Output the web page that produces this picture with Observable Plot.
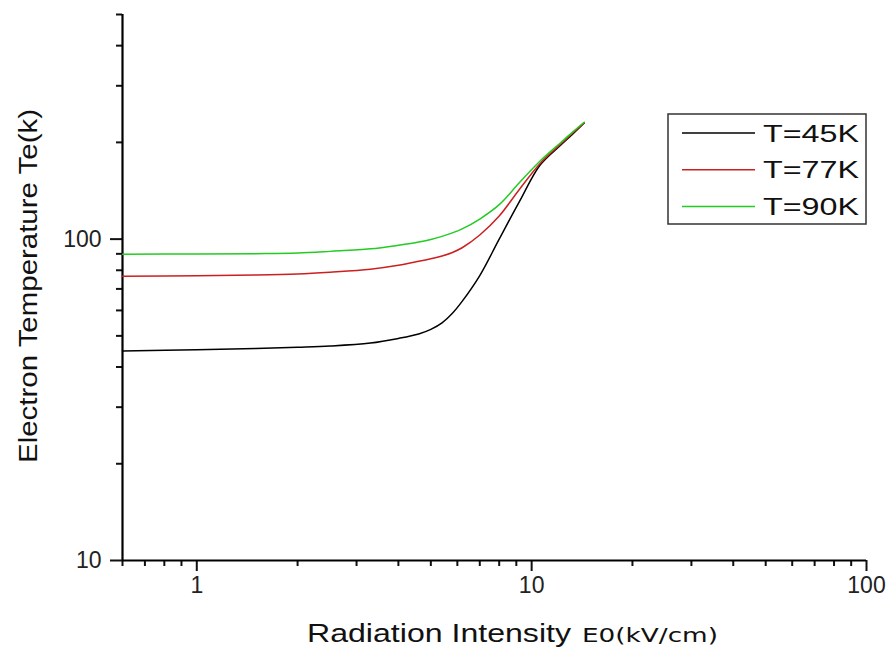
<!DOCTYPE html>
<html><head><meta charset="utf-8">
<script src="https://cdn.jsdelivr.net/npm/d3@7"></script>
<script src="https://cdn.jsdelivr.net/npm/@observablehq/plot@0.6"></script>
<style>html,body{margin:0;padding:0;background:#fff} #chart{width:890px;height:648px}</style>
</head><body><div id="chart"></div>
<script>
// Radiation intensity E0 (kV/cm), shared by all series
const E0   = [0.6, 1, 1.5, 2, 2.5, 3.3, 4, 4.6, 5.0, 5.4, 5.8, 6.2, 7, 8, 9.2, 10.6, 12.2, 13.3, 14.35];
// Electron temperature Te (K)
const te45 = [44.9, 45.3, 45.7, 46.1, 46.5, 47.5, 49.1, 50.7, 52.4, 54.9, 58.8, 64.0, 77.0, 100, 131, 170, 196, 213, 230];
const te77 = [76.7, 76.9, 77.3, 77.9, 78.9, 80.6, 82.9, 85.3, 86.9, 88.6, 90.9, 94.0, 103, 118, 143, 172, 197.5, 214.5, 230];
const te90 = [89.8, 89.9, 90.1, 90.5, 91.6, 93.3, 95.7, 97.9, 99.8, 102.0, 104.6, 107.6, 115.5, 128, 150, 175, 199.5, 216, 231];

const seriesNames  = ["T=45K", "T=77K", "T=90K"];
const seriesColors = ["#000000", "#cc2020", "#22cc22"];

const xMajorTicks = [1, 10, 100];
const xMinorTicks = [0.6, 0.7, 0.8, 0.9, 2, 3, 4, 5, 6, 7, 8, 9, 20, 30, 40, 50, 60, 70, 80, 90];
const yMajorTicks = [10, 100];
const yMinorTicks = [20, 30, 40, 50, 60, 70, 80, 90, 200, 300, 400, 500];

const xTitle = "Radiation Intensity";
const xUnit  = "E0(kV/cm)";
const yTitle = "Electron Temperature Te(k)";

const rows = [];
[te45, te77, te90].forEach((ys, i) => ys.forEach((v, j) => rows.push({E: E0[j], Te: v, series: seriesNames[i]})));

const font = "'Liberation Sans', Arial, sans-serif";

const plot = Plot.plot({
  width: 890, height: 648,
  marginLeft: 122, marginRight: 24, marginTop: 14, marginBottom: 88,
  style: {fontFamily: font, background: "#fff", color: "#111"},
  x: {type: "log", domain: [0.6, 100], label: null},
  y: {type: "log", domain: [10, 500], label: null},
  color: {domain: seriesNames, range: seriesColors},
  marks: [
    Plot.axisX(xMinorTicks, {tickSize: 6, tickFormat: () => "", strokeWidth: 2, label: null}),
    Plot.axisX(xMajorTicks, {tickSize: 11, tickPadding: 5, fontSize: 23, strokeWidth: 2, tickFormat: d => String(d), label: null}),
    Plot.axisY(yMinorTicks, {tickSize: 6, tickFormat: () => "", strokeWidth: 2, label: null}),
    Plot.axisY(yMajorTicks, {tickSize: 12, tickPadding: 9, fontSize: 23, strokeWidth: 2, tickFormat: d => String(d), label: null}),
    Plot.ruleX([0.6], {strokeWidth: 2.2, stroke: "#000"}),
    Plot.ruleY([10], {strokeWidth: 2.2, stroke: "#000"}),
    Plot.line(rows, {x: "E", y: "Te", stroke: "series", strokeWidth: 1.5, curve: "catmull-rom"})
  ]
});
document.getElementById("chart").appendChild(plot);

const svg = d3.select(plot);
// tick labels (all texts Plot drew so far are axis tick labels)
svg.selectAll("text").attr("font-size", 23).style("font-size", "23px").style("fill", "#222");

// y axis title
svg.append("text")
  .attr("transform", "translate(28,286) rotate(-90)")
  .attr("text-anchor", "middle").attr("dominant-baseline", "central")
  .attr("font-family", font).attr("font-size", 26).attr("fill", "#111")
  .attr("textLength", 354).attr("lengthAdjust", "spacingAndGlyphs")
  .text(yTitle);
// x axis title
svg.append("text")
  .attr("x", 307).attr("y", 642).attr("text-anchor", "start")
  .attr("font-family", font).attr("font-size", 25).attr("fill", "#111")
  .attr("textLength", 264).attr("lengthAdjust", "spacingAndGlyphs")
  .text(xTitle);
svg.append("text")
  .attr("x", 582).attr("y", 642).attr("text-anchor", "start")
  .attr("font-family", "'DejaVu Sans', Verdana, sans-serif").attr("font-size", 19).attr("fill", "#111")
  .attr("textLength", 136).attr("lengthAdjust", "spacingAndGlyphs")
  .text(xUnit);

// legend
const lg = svg.append("g");
lg.append("rect").attr("x", 668).attr("y", 114).attr("width", 198).attr("height", 110)
  .attr("fill", "#fff").attr("stroke", "#333").attr("stroke-width", 1.5);
seriesNames.forEach((name, i) => {
  const cy = 133 + i * 36.7;
  lg.append("line").attr("x1", 682).attr("x2", 755).attr("y1", cy).attr("y2", cy)
    .attr("stroke", seriesColors[i]).attr("stroke-width", 1.5);
  lg.append("text").attr("x", 763).attr("y", cy).attr("text-anchor", "start").attr("dominant-baseline", "central")
    .attr("font-family", font).attr("font-size", 24).attr("fill", "#111")
    .attr("textLength", 96).attr("lengthAdjust", "spacingAndGlyphs")
    .text(name);
});
</script>
</body></html>
